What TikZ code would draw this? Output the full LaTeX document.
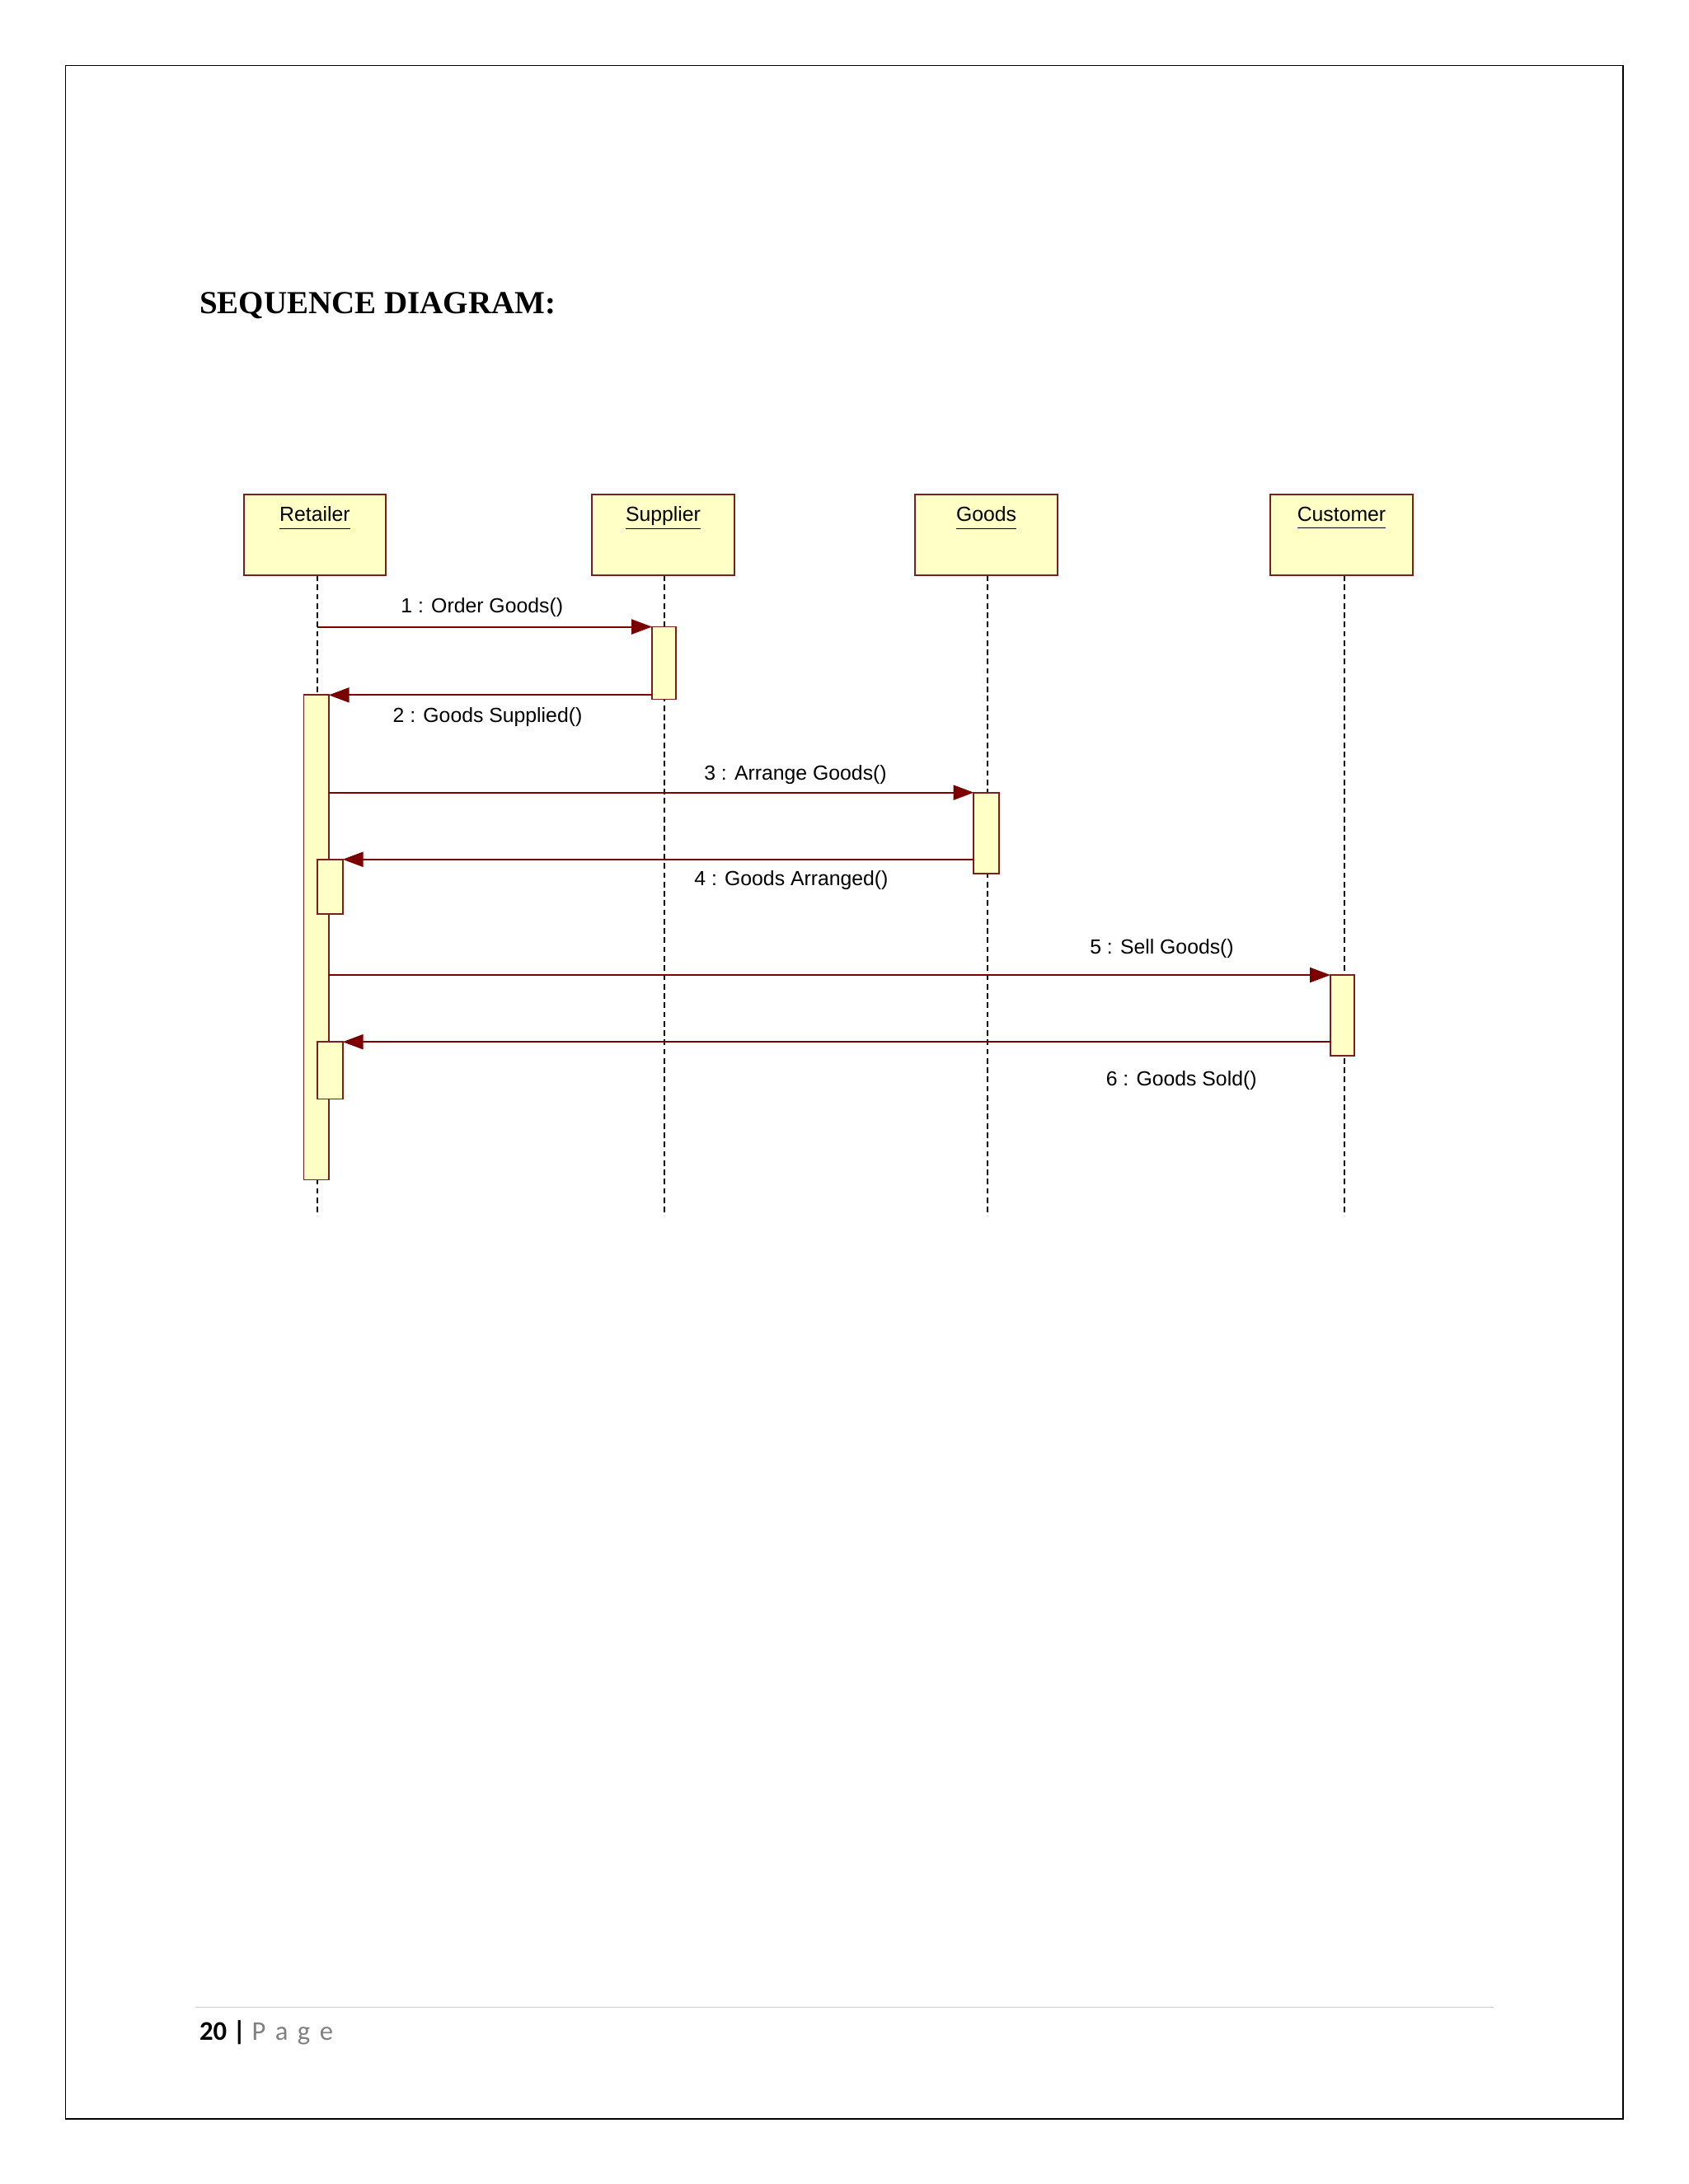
\documentclass[tikz,border=0pt]{standalone}
\usepackage{fontspec}
\setmainfont{Liberation Sans}
\newfontfamily\titlefont{Liberation Serif}
\newfontfamily\footfont{Carlito}
\usetikzlibrary{arrows.meta}
\definecolor{brd}{HTML}{7A1E1E}
\definecolor{fillc}{HTML}{FFFFC6}
\definecolor{arr}{HTML}{7A0000}
\newcommand{\ul}[1]{\underline{#1\vphantom{py}}}
\tikzset{
 obj/.style={draw=brd,fill=fillc,line width=0.9pt},
 life/.style={dash pattern=on 3pt off 2pt,line width=0.8pt},
 act/.style={draw=brd,fill=fillc,line width=0.8pt},
 msg/.style={draw=arr,line width=0.9pt,-{Triangle[length=11pt,width=8pt]}},
 lbl/.style={font=\fontsize{11}{13}\selectfont,inner sep=1pt},
 olbl/.style={font=\fontsize{11}{13}\selectfont}
}
\begin{document}
\begin{tikzpicture}[x=0.75pt,y=-0.75pt]
\useasboundingbox (0,0) rectangle (1212,1568);
\draw[line width=0.8pt] (47,47) rectangle (1165,1521);
\node[anchor=base west,inner sep=0,font=\titlefont\bfseries\fontsize{17.3}{19}\selectfont] (title) at (143,225) {SEQUENCE DIAGRAM:};
% lifelines
\foreach \x/\n in {228/r,477/s,709/g,965/c}{
 \coordinate (\n top) at (\x,413); \coordinate (\n bot) at (\x,873);
 \draw[life] (\n top) -- (\n bot);}
% objects
\draw[obj] (175,355) rectangle (277,413); \node[olbl] (Rn) at (226,372) {\ul{Retailer}};
\draw[obj] (425,355) rectangle (527,413); \node[olbl] (Sn) at (476,372) {\ul{Supplier}};
\draw[obj] (657,355) rectangle (759,413); \node[olbl] (Gn) at (708,372) {\ul{Goods}};
\draw[obj] (912,355) rectangle (1014,413); \node[olbl] (Cn) at (963,372) {\ul{Customer}};
% activations
\draw[act] (218,499) rectangle (236,847);
\draw[act] (468,450) rectangle (485,502);
\draw[act] (699,569) rectangle (717,627);
\draw[act] (955,700) rectangle (972,758);
\draw[act] (228,617) rectangle (246,656);
\draw[act] (228,748) rectangle (246,789);
% message endpoints
\coordinate (m1a) at (228,450); \coordinate (m1b) at (468,450);
\coordinate (m2a) at (468,499); \coordinate (m2b) at (236,499);
\coordinate (m3a) at (236,569); \coordinate (m3b) at (699,569);
\coordinate (m4a) at (699,617); \coordinate (m4b) at (246,617);
\coordinate (m5a) at (236,700); \coordinate (m5b) at (955,700);
\coordinate (m6a) at (955,748); \coordinate (m6b) at (246,748);
\draw[msg] (m1a) -- (m1b); \draw[msg] (m2a) -- (m2b);
\draw[msg] (m3a) -- (m3b); \draw[msg] (m4a) -- (m4b);
\draw[msg] (m5a) -- (m5b); \draw[msg] (m6a) -- (m6b);
\node[lbl] (l1) at (346,436) {1 : Order Goods()};
\node[lbl] (l2) at (350,515) {2 : Goods Supplied()};
\node[lbl] (l3) at (571,556) {3 : Arrange Goods()};
\node[lbl] (l4) at (568,632) {4 : Goods Arranged()};
\node[lbl] (l5) at (834,681) {5 : Sell Goods()};
\node[lbl] (l6) at (848,776) {6 : Goods Sold()};
% footer
\draw[gray!40,line width=0.6pt] (140,1441) -- (1072,1441);
\node[anchor=base west,inner sep=0,font=\footfont\fontsize{14.5}{16}\selectfont] (foot) at (143,1465) {\textbf{20 |} \textcolor{gray}{P\hspace{0.35em}a\hspace{0.35em}g\hspace{0.35em}e}};
\end{tikzpicture}
\end{document}
